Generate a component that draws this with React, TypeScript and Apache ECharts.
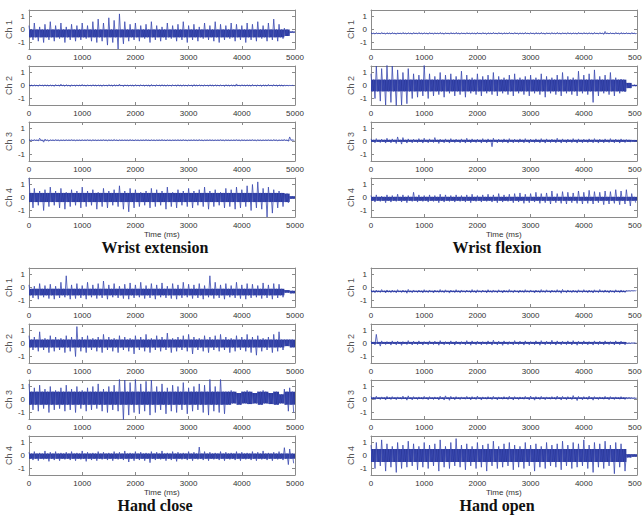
import React, { useEffect, useRef } from "react";
import * as echarts from "echarts";

// Time axis
const xMin = 0;
const xMax = 5000;
const xStep = 1000;
const sampleStep = 100; // each entry covers 100 ms window
const yTickValues = [-1, 0, 1];

const groupTitles = ["Wrist extension", "Wrist flexion", "Hand close", "Hand open"];
const channelNames = ["Ch 1", "Ch 2", "Ch 3", "Ch 4"];

// Envelope readings (max / min of signal in each 100 ms window) — Wrist extension
const we1Up = [0.3,0.5,0.2,0.4,0.6,0.3,0.5,0.2,0.4,0.3, 0.5,0.3,0.6,0.8,0.5,0.9,0.7,1.2,0.6,0.4, 0.5,0.3,0.4,0.6,0.3,0.2,0.5,0.3,0.4,0.6, 0.3,0.4,0.2,0.5,0.3,0.6,0.4,0.3,0.5,0.4, 0.3,0.5,0.4,0.6,0.3,0.5,0.8,0.4,0.1,-0.15];
const we1Dn = [-0.8,-0.9,-1.0,-0.8,-0.9,-0.7,-1.0,-0.8,-0.9,-0.8, -0.7,-0.9,-1.0,-0.9,-1.2,-1.0,-1.5,-1.1,-0.9,-0.8, -0.9,-0.7,-1.0,-0.8,-0.9,-0.8,-0.7,-0.9,-0.8,-1.0, -0.8,-0.9,-0.7,-0.8,-0.9,-1.0,-0.8,-0.7,-0.9,-0.8, -1.0,-0.8,-0.9,-0.7,-0.9,-0.8,-0.9,-0.7,-0.5,-0.25];
const we2Up = [0.05,0.04,0.06,0.05,0.04,0.07,0.1,0.06,0.05,0.04, 0.08,0.05,0.06,0.04,0.05,0.07,0.06,0.1,0.05,0.04, 0.06,0.05,0.04,0.07,0.05,0.06,0.04,0.05,0.06,0.04, 0.05,0.07,0.05,0.04,0.06,0.05,0.04,0.06,0.05,0.12, 0.06,0.05,0.07,0.04,0.05,0.08,0.06,0.05,0.02,0.01];
const we2Dn = [-0.05,-0.06,-0.04,-0.05,-0.07,-0.05,-0.06,-0.08,-0.05,-0.04, -0.06,-0.05,-0.04,-0.07,-0.05,-0.06,-0.04,-0.08,-0.05,-0.06, -0.04,-0.05,-0.07,-0.05,-0.04,-0.06,-0.05,-0.04,-0.06,-0.05, -0.07,-0.04,-0.05,-0.06,-0.05,-0.04,-0.07,-0.05,-0.06,-0.05, -0.04,-0.06,-0.05,-0.07,-0.05,-0.04,-0.06,-0.05,-0.02,-0.01];
const we3Up = [0.15,0.14,0.25,0.18,0.13,0.14,0.12,0.13,0.14,0.12, 0.13,0.14,0.13,0.12,0.14,0.13,0.15,0.13,0.12,0.14, 0.13,0.12,0.14,0.13,0.12,0.14,0.13,0.12,0.13,0.14, 0.12,0.13,0.14,0.12,0.13,0.12,0.14,0.13,0.12,0.14, 0.13,0.12,0.14,0.13,0.12,0.13,0.14,0.12,0.15,0.35];
const we3Dn = [0.06,0.05,-0.05,0.02,0.07,0.06,0.07,0.08,0.06,0.07, 0.08,0.06,0.07,0.08,0.06,0.07,0.06,0.08,0.07,0.06, 0.07,0.08,0.06,0.07,0.08,0.06,0.07,0.08,0.07,0.06, 0.08,0.07,0.06,0.08,0.07,0.08,0.06,0.07,0.08,0.06, 0.07,0.08,0.06,0.07,0.08,0.07,0.06,0.08,0.02,0.1];
const we4Up = [1.5,0.7,0.5,0.6,0.8,0.5,0.7,0.4,0.6,0.5, 0.8,0.5,0.6,0.4,0.7,0.5,0.6,0.9,0.5,0.7, 0.6,0.4,0.5,0.7,0.6,0.5,0.8,0.4,0.6,0.5, 0.7,0.5,0.6,0.8,0.5,0.6,0.4,0.7,0.6,0.8, 0.6,0.9,1.0,1.2,0.7,0.8,0.6,0.5,0.3,0.1];
const we4Dn = [-0.8,-0.6,-1.0,-0.7,-0.6,-0.8,-0.9,-0.7,-0.6,-0.8, -0.7,-0.6,-0.9,-0.7,-0.8,-0.6,-0.7,-0.9,-1.1,-0.8, -0.7,-0.6,-0.8,-0.7,-0.6,-0.9,-0.7,-0.8,-0.6,-0.7, -0.8,-0.6,-0.7,-0.9,-0.7,-0.6,-0.8,-0.7,-0.9,-0.8, -0.7,-1.0,-0.8,-0.9,-1.5,-1.2,-0.8,-0.7,-0.4,-0.1];

// Wrist flexion
const wf1Up = [-0.24,-0.25,-0.23,-0.25,-0.24,-0.26,-0.23,-0.25,-0.24,-0.23, -0.25,-0.24,-0.26,-0.23,-0.25,-0.24,-0.23,-0.25,-0.24,-0.26, -0.23,-0.24,-0.25,-0.23,-0.24,-0.25,-0.23,-0.24,-0.26,-0.23, -0.25,-0.24,-0.23,-0.25,-0.24,-0.23,-0.25,-0.24,-0.26,-0.23, -0.24,-0.25,-0.23,-0.24,-0.15,-0.25,-0.23,-0.24,-0.25,-0.24];
const wf1Dn = [-0.35,-0.34,-0.36,-0.35,-0.37,-0.34,-0.35,-0.36,-0.34,-0.35, -0.36,-0.35,-0.34,-0.37,-0.35,-0.34,-0.36,-0.35,-0.34,-0.36, -0.35,-0.37,-0.34,-0.35,-0.36,-0.34,-0.35,-0.36,-0.35,-0.34, -0.36,-0.35,-0.37,-0.34,-0.35,-0.36,-0.34,-0.35,-0.36,-0.35, -0.34,-0.36,-0.35,-0.37,-0.34,-0.35,-0.36,-0.34,-0.35,-0.34];
const wf2Up = [0.9,1.5,1.3,1.6,1.5,1.2,1.0,1.3,0.9,0.8, 1.6,0.9,0.7,1.0,0.8,0.9,0.7,1.1,0.8,0.6, 0.9,0.7,0.8,1.0,0.7,0.6,0.8,0.9,0.6,0.7, 0.8,0.6,0.9,0.7,0.6,0.8,1.0,0.7,0.6,1.1, 0.8,0.9,1.2,0.7,0.8,1.0,0.6,0.5,0.2,0.05];
const wf2Dn = [-1.0,-1.2,-1.5,-1.3,-1.6,-1.5,-1.4,-1.0,-0.9,-0.8, -1.0,-0.8,-0.7,-0.9,-0.6,-0.8,-0.7,-0.9,-0.6,-0.7, -0.8,-0.6,-0.7,-0.8,-0.6,-0.7,-0.8,-0.6,-0.7,-0.8, -0.6,-0.7,-0.9,-0.6,-0.7,-0.8,-0.6,-0.7,-0.8,-0.6, -0.7,-1.3,-0.8,-0.6,-0.7,-0.8,-0.6,-0.5,-0.2,-0.05];
const wf3Up = [0.2,0.22,0.18,0.25,0.2,0.35,0.3,0.2,0.18,0.22, 0.25,0.2,0.3,0.18,0.2,0.22,0.18,0.2,0.25,0.2, 0.18,0.22,0.2,0.25,0.18,0.2,0.22,0.18,0.2,0.22, 0.18,0.2,0.22,0.2,0.18,0.25,0.2,0.18,0.22,0.2, 0.18,0.2,0.22,0.18,0.2,0.22,0.18,0.2,0.15,0.12];
const wf3Dn = [-0.1,-0.08,-0.12,-0.1,-0.15,-0.2,-0.12,-0.1,-0.08,-0.12, -0.1,-0.08,-0.15,-0.1,-0.12,-0.08,-0.1,-0.12,-0.1,-0.08, -0.12,-0.1,-0.4,-0.1,-0.08,-0.12,-0.1,-0.08,-0.1,-0.12, -0.08,-0.1,-0.12,-0.08,-0.1,-0.12,-0.1,-0.08,-0.12,-0.1, -0.08,-0.1,-0.12,-0.1,-0.08,-0.1,-0.12,-0.08,-0.05,-0.02];
const wf4Up = [0.15,0.2,0.1,0.2,0.15,0.25,0.2,0.15,0.4,0.2, 0.15,0.2,0.15,0.25,0.2,0.15,0.2,0.15,0.2,0.25, 0.15,0.2,0.25,0.2,0.3,0.2,0.25,0.3,0.35,0.25, 0.3,0.4,0.3,0.35,0.5,0.3,0.45,0.4,0.35,0.5, 0.4,0.55,0.45,0.4,0.5,0.45,0.6,0.5,0.6,0.3];
const wf4Dn = [-0.35,-0.3,-0.4,-0.35,-0.3,-0.35,-0.4,-0.3,-0.35,-0.3, -0.35,-0.3,-0.4,-0.35,-0.3,-0.35,-0.3,-0.35,-0.4,-0.3, -0.35,-0.3,-0.35,-0.4,-0.35,-0.3,-0.4,-0.35,-0.45,-0.4, -0.35,-0.45,-0.4,-0.5,-0.4,-0.45,-0.5,-0.4,-0.45,-0.5, -0.45,-0.5,-0.4,-0.55,-0.5,-0.45,-0.55,-0.5,-0.65,-0.4];

// Hand close
const hc1Up = [0.2,0.1,0.3,0.15,0.25,0.1,0.4,0.9,0.2,0.3, 0.15,0.4,0.2,0.3,0.5,0.2,0.3,0.1,0.25,0.35, 0.2,0.4,0.15,0.3,0.2,0.35,0.1,0.3,0.2,0.4, 0.25,0.2,0.3,0.15,0.9,0.4,0.2,0.3,0.15,0.4, 0.2,0.3,0.25,0.15,0.35,0.2,0.3,0.25,-0.2,-0.25];
const hc1Dn = [-0.8,-0.9,-0.75,-0.85,-0.9,-0.8,-0.75,-0.9,-0.85,-0.8, -0.9,-0.75,-0.85,-0.8,-0.9,-0.75,-0.8,-0.85,-0.9,-0.8, -0.75,-0.85,-0.8,-0.9,-0.75,-0.8,-0.85,-0.9,-0.8,-0.75, -0.85,-0.8,-0.9,-0.75,-0.85,-0.8,-0.9,-0.75,-0.8,-0.85, -0.9,-0.8,-0.75,-0.85,-0.8,-0.9,-0.8,-0.75,-0.4,-0.45];
const hc2Up = [0.6,0.5,0.9,0.4,0.6,0.5,0.4,0.6,0.5,1.3, 0.5,0.6,0.4,0.5,0.7,0.5,0.4,0.6,0.5,0.4, 0.6,0.5,0.7,0.4,0.6,0.5,0.8,0.4,0.5,0.6, 0.7,0.5,0.4,0.6,0.5,0.6,0.7,0.5,0.4,0.6, 0.5,0.7,0.5,0.6,0.4,0.5,0.7,0.9,0.3,0.3];
const hc2Dn = [-0.5,-0.6,-0.5,-0.7,-0.6,-0.5,-0.7,-0.6,-1.0,-0.6, -0.7,-0.5,-0.6,-0.7,-0.5,-0.6,-0.7,-0.5,-0.6,-0.8, -0.5,-0.6,-0.7,-0.5,-0.6,-0.5,-0.7,-0.6,-0.5,-0.6, -0.8,-0.5,-0.6,-0.7,-0.5,-0.6,-0.5,-0.7,-0.6,-0.5, -0.6,-0.7,-0.9,-0.6,-0.5,-0.7,-0.6,-0.5,-0.2,-0.3];
const hc3Up = [1.2,0.9,1.1,0.8,1.0,0.7,0.9,1.1,0.8,1.0, 0.7,0.9,1.0,1.2,0.8,1.0,1.1,1.6,1.5,1.3, 1.6,1.2,1.4,1.5,1.0,1.2,0.9,1.1,1.0,1.3, 0.9,1.0,1.2,1.1,1.6,1.0,1.6,0.6,0.7,0.5, 0.6,0.7,0.5,0.6,0.7,0.5,0.6,0.4,0.8,0.9];
const hc3Dn = [-0.8,-0.9,-0.7,-1.0,-0.8,-0.7,-0.9,-0.8,-1.0,-0.7, -0.9,-0.8,-0.7,-0.9,-1.0,-0.8,-0.9,-1.6,-1.2,-1.0, -1.1,-0.9,-1.2,-1.0,-0.8,-1.1,-0.9,-1.0,-0.8,-1.1, -0.9,-0.8,-1.0,-1.2,-0.9,-1.0,-1.1,-0.4,-0.3,-0.4, -0.3,-0.35,-0.3,-0.4,-0.3,-0.35,-0.4,-0.3,-0.9,-1.0];
const hc4Up = [0.25,0.3,0.2,0.35,0.25,0.3,0.2,0.25,0.3,0.2, 0.35,0.25,0.2,0.3,0.25,0.2,0.3,0.25,0.35,0.2, 0.3,0.25,0.2,0.3,0.25,0.35,0.2,0.3,0.25,0.2, 0.3,0.25,0.65,0.3,0.25,0.2,0.3,0.25,0.2,0.3, 0.25,0.2,0.3,0.25,0.35,0.2,0.25,0.3,0.6,0.5];
const hc4Dn = [-0.35,-0.4,-0.3,-0.45,-0.35,-0.4,-0.3,-0.35,-0.4,-0.3, -0.45,-0.35,-0.4,-0.3,-0.35,-0.4,-0.3,-0.35,-0.5,-0.4, -0.35,-0.4,-0.55,-0.35,-0.3,-0.4,-0.35,-0.45,-0.3,-0.35, -0.4,-0.3,-0.35,-0.4,-0.3,-0.35,-0.4,-0.3,-0.35,-0.4, -0.3,-0.35,-0.4,-0.3,-0.35,-0.4,-0.3,-0.35,-0.7,-0.6];

// Hand open
const ho1Up = [-0.18,-0.2,-0.16,-0.19,-0.2,-0.17,-0.2,-0.15,-0.19,-0.2, -0.17,-0.19,-0.2,-0.16,-0.18,-0.2,-0.17,-0.19,-0.2,-0.16, -0.18,-0.2,-0.17,-0.19,-0.18,-0.2,-0.16,-0.19,-0.2,-0.17, -0.19,-0.2,-0.16,-0.18,-0.2,-0.17,-0.15,-0.19,-0.2,-0.18, -0.17,-0.2,-0.18,-0.16,-0.19,-0.2,-0.18,-0.19,-0.23,-0.24];
const ho1Dn = [-0.4,-0.38,-0.42,-0.39,-0.41,-0.38,-0.44,-0.4,-0.38,-0.41, -0.39,-0.42,-0.38,-0.4,-0.43,-0.39,-0.41,-0.38,-0.4,-0.42, -0.38,-0.41,-0.39,-0.4,-0.42,-0.38,-0.4,-0.41,-0.39,-0.38, -0.42,-0.4,-0.39,-0.41,-0.38,-0.44,-0.4,-0.39,-0.41,-0.38, -0.4,-0.42,-0.39,-0.38,-0.41,-0.4,-0.39,-0.38,-0.28,-0.27];
const ho2Up = [0.15,0.7,0.2,0.15,0.2,0.18,0.15,0.22,0.18,0.2, 0.15,0.2,0.18,0.22,0.15,0.2,0.18,0.15,0.22,0.2, 0.18,0.15,0.2,0.25,0.18,0.2,0.15,0.22,0.18,0.2, 0.15,0.2,0.22,0.18,0.25,0.2,0.18,0.2,0.22,0.18, 0.2,0.15,0.2,0.18,0.2,0.15,0.2,0.18,0.05,0.05];
const ho2Dn = [-0.1,-0.2,-0.08,-0.12,-0.1,-0.14,-0.08,-0.11,-0.09,-0.12, -0.1,-0.08,-0.13,-0.1,-0.09,-0.12,-0.08,-0.1,-0.13,-0.09, -0.11,-0.08,-0.12,-0.1,-0.14,-0.09,-0.11,-0.08,-0.12,-0.1, -0.09,-0.13,-0.1,-0.08,-0.12,-0.1,-0.09,-0.11,-0.13,-0.08, -0.1,-0.12,-0.09,-0.1,-0.08,-0.11,-0.09,-0.1,0.0,0.02];
const ho3Up = [0.22,0.25,0.2,0.24,0.22,0.2,0.26,0.28,0.22,0.2, 0.24,0.22,0.2,0.25,0.28,0.24,0.22,0.2,0.24,0.22, 0.26,0.2,0.22,0.24,0.2,0.22,0.25,0.22,0.2,0.24, 0.26,0.22,0.24,0.2,0.22,0.26,0.24,0.22,0.3,0.24, 0.22,0.26,0.22,0.2,0.24,0.22,0.2,0.22,0.15,0.13];
const ho3Dn = [-0.02,0.0,-0.04,0.0,-0.02,0.02,-0.05,-0.03,0.0,0.02, -0.02,0.0,-0.03,-0.04,-0.06,-0.02,0.0,0.02,-0.03,0.0, -0.04,0.02,0.0,-0.03,0.02,0.0,-0.04,0.0,0.02,-0.03, -0.05,0.0,-0.02,0.02,0.0,-0.04,-0.02,0.0,-0.08,-0.02, 0.0,-0.05,0.0,0.02,-0.02,0.0,0.02,0.0,0.07,0.08];
const ho4Up = [0.8,1.0,1.2,0.9,0.7,1.0,0.8,1.1,0.9,0.7, 1.0,0.8,0.9,1.2,0.7,1.0,1.3,0.8,0.9,0.7, 1.0,0.8,0.9,1.1,0.7,0.9,1.0,0.8,0.7,1.0, 0.8,0.9,0.7,1.0,0.8,0.9,1.1,0.8,1.0,0.9, 1.2,0.8,1.0,0.9,1.1,0.8,1.0,0.9,0.1,0.1];
const ho4Dn = [-1.0,-0.8,-1.2,-0.9,-1.3,-1.0,-0.9,-0.8,-1.1,-0.9, -1.0,-0.8,-1.2,-0.9,-1.0,-0.8,-0.9,-1.1,-0.8,-1.0, -0.9,-1.2,-0.8,-1.0,-0.9,-0.8,-1.1,-0.9,-1.0,-0.8, -1.2,-0.9,-1.0,-0.8,-0.9,-1.1,-0.8,-1.0,-0.9,-0.8, -1.0,-1.3,-0.9,-1.0,-0.8,-1.4,-0.9,-1.2,-0.15,-0.1];

// Dense core band of each panel (order: WE1-4, WF1-4, HC1-4, HO1-4)
const coreLo = [-0.6,-0.03,0.08,-0.35, -0.32,-0.45,-0.03,-0.25, -0.6,-0.3,-0.4,-0.25, -0.35,-0.03,0.04,-0.5];
const coreHi = [0.0,0.03,0.12,0.35, -0.28,0.45,0.13,0.05, -0.1,0.3,0.6,0.15, -0.25,0.12,0.16,0.5];

const ups = [we1Up, we2Up, we3Up, we4Up, wf1Up, wf2Up, wf3Up, wf4Up, hc1Up, hc2Up, hc3Up, hc4Up, ho1Up, ho2Up, ho3Up, ho4Up];
const dns = [we1Dn, we2Dn, we3Dn, we4Dn, wf1Dn, wf2Dn, wf3Dn, wf4Dn, hc1Dn, hc2Dn, hc3Dn, hc4Dn, ho1Dn, ho2Dn, ho3Dn, ho4Dn];

const COL_LEFT = [29, 371];
const PLOT_W = 266;
const PLOT_H = 39;
const ROW_TOPS = [
  [10, 66, 122, 178],
  [268, 324, 380, 436],
];
const SIG = "#3a49b0";
const CORE = "#2c3a9c";
const BOX = "#8a8a8a";
const TXT = "#333";

function buildOption() {
  const grid: any[] = [];
  const xAxis: any[] = [];
  const yAxis: any[] = [];
  const series: any[] = [];
  const graphic: any[] = [];

  for (let g = 0; g < 4; g++) {
    const col = g % 2;
    const half = Math.floor(g / 2);
    for (let c = 0; c < 4; c++) {
      const p = g * 4 + c;
      const gi = grid.length;
      grid.push({
        left: COL_LEFT[col], top: ROW_TOPS[half][c], width: PLOT_W, height: PLOT_H,
        show: false, containLabel: false, outerBoundsMode: "none",
      });
      const tickStyle = { show: true, inside: true, length: 3, lineStyle: { color: BOX, width: 1 } };
      xAxis.push({
        gridIndex: gi, type: "value", min: xMin, max: xMax, interval: xStep, position: "bottom",
        axisLine: { show: true, onZero: false, lineStyle: { color: BOX, width: 1 } },
        axisTick: tickStyle,
        axisLabel: {
          show: true, fontSize: 8, color: TXT, margin: 4, fontFamily: "Liberation Sans, Arial", hideOverlap: false,
          formatter: (v: number) => String(v),
        },
        splitLine: { show: false },
      });
      xAxis.push({
        gridIndex: gi, type: "value", min: xMin, max: xMax, interval: xStep, position: "top",
        axisLine: { show: true, onZero: false, lineStyle: { color: BOX, width: 1 } },
        axisTick: tickStyle, axisLabel: { show: false }, splitLine: { show: false },
      });
      yAxis.push({
        gridIndex: gi, type: "value", min: -1.5, max: 1.5, position: "left",
        name: channelNames[c], nameLocation: "middle", nameGap: 15, nameRotate: 90,
        nameTextStyle: { fontSize: 9, color: "#555", fontFamily: "Liberation Sans, Arial" },
        axisLine: { show: true, onZero: false, lineStyle: { color: BOX, width: 1 } },
        axisTick: { ...tickStyle, customValues: yTickValues },
        axisLabel: {
          show: true, fontSize: 8, color: TXT, margin: 4, customValues: yTickValues,
          fontFamily: "Liberation Sans, Arial", formatter: (v: number) => String(v),
        },
        splitLine: { show: false },
      });
      yAxis.push({
        gridIndex: gi, type: "value", min: -1.5, max: 1.5, position: "right",
        axisLine: { show: true, onZero: false, lineStyle: { color: BOX, width: 1 } },
        axisTick: { ...tickStyle, customValues: yTickValues },
        axisLabel: { show: false }, splitLine: { show: false },
      });
      const up = ups[p];
      const dn = dns[p];
      const lo = coreLo[p];
      const hi = coreHi[p];
      const zig: number[][] = [];
      const items: number[][] = [];
      for (let i = 0; i < up.length; i++) {
        const t = i * sampleStep;
        const cHi = Math.min(up[i], hi);
        const cLo = Math.max(dn[i], lo);
        zig.push([t, up[i]]);
        zig.push([t + sampleStep * 0.25, cLo]);
        zig.push([t + sampleStep * 0.5, cHi]);
        zig.push([t + sampleStep * 0.75, dn[i]]);
        items.push([t, up[i], dn[i]]);
      }
      series.push({
        type: "custom", xAxisIndex: gi * 2, yAxisIndex: gi * 2, clip: true, silent: true,
        data: items,
        renderItem: (params: any, api: any) => {
          const t = api.value(0);
          const top = Math.min(api.value(1), hi);
          const bot = Math.max(api.value(2), lo);
          if (top <= bot) return { type: "group", children: [] };
          const a = api.coord([t, top]);
          const b = api.coord([t + sampleStep, bot]);
          return { type: "rect", shape: { x: a[0], y: a[1], width: b[0] - a[0], height: b[1] - a[1] }, style: { fill: CORE } };
        },
      });
      series.push({
        type: "line", xAxisIndex: gi * 2, yAxisIndex: gi * 2, data: zig, symbol: "none", silent: true,
        lineStyle: { color: SIG, width: 0.8 }, clip: true,
      });
    }
    const cx = COL_LEFT[col] + PLOT_W / 2;
    const bottom = ROW_TOPS[half][3] + PLOT_H;
    graphic.push({
      type: "text", left: cx - 18, top: bottom + 13,
      style: { text: "Time (ms)", fontSize: 8, fill: TXT, fontFamily: "Liberation Sans, Arial" },
    });
    graphic.push({
      type: "text", x: cx - 7, y: bottom + 30,
      style: { text: groupTitles[g], fontSize: 16, fontWeight: "bold", fill: "#111", fontFamily: "Liberation Serif, Times New Roman, serif", align: "center", verticalAlign: "middle" },
    });
  }

  return { animation: false, backgroundColor: "#fff", grid, xAxis, yAxis, series, graphic };
}

export default function App() {
  const ref = useRef<HTMLDivElement>(null);
  useEffect(() => {
    document.body.style.margin = "0";
    const chart = echarts.init(ref.current!, undefined, { renderer: "svg" });
    chart.setOption(buildOption());
    return () => chart.dispose();
  }, []);
  return <div ref={ref} style={{ position: "absolute", left: 0, top: 0, width: 642, height: 517, background: "#fff" }} />;
}
